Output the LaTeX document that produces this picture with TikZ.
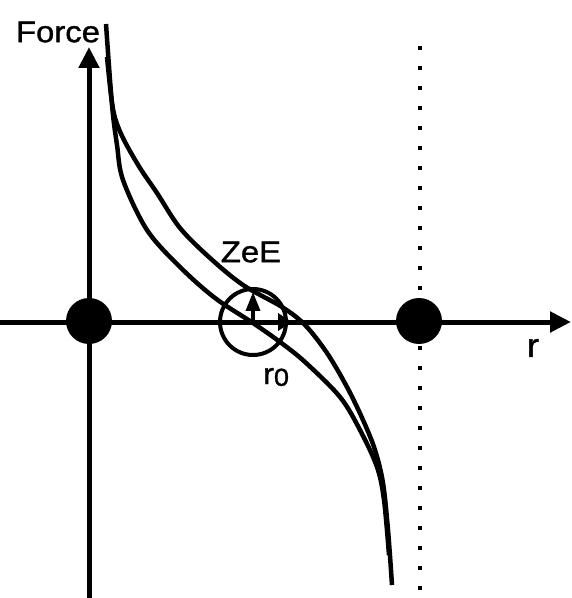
\documentclass[tikz,border=0pt]{standalone}
\usepackage{fontspec}
\setmainfont{Liberation Sans}[FakeStretch=1.1, FakeBold=1.2]
\usetikzlibrary{arrows.meta}

\begin{document}
\begin{tikzpicture}[
    x=0.02cm, y=-0.02cm,
    >={Triangle[length=0.42cm, width=0.4cm]},
    line width=0.1cm,
    font=\fontsize{17}{20}\selectfont,
    atom/.style={circle, fill=black, inner sep=0pt, minimum size=0.92cm},
    lbl/.style={inner sep=0pt}
]

    % Frame
    \useasboundingbox (0,0) rectangle (571,598);

    % Define standard coordinates
    \coordinate (Ybot) at (89,598);
    \coordinate (Ytop) at (89,47);
    \coordinate (Xleft) at (0,322);
    \coordinate (Xright) at (571,322);
    \coordinate (Dtop) at (420,46);
    \coordinate (Dbot) at (420,598);
    \coordinate (C) at (253,322);
    \coordinate (Cup) at (253,292);
    \coordinate (Cright) at (292,322);

    % Axes
    \draw[->] (Ybot) -- (Ytop);
    \draw[->] (Xleft) -- (Xright);

    % Dotted boundary
    \draw[line width=0.085cm, dash pattern=on 0.085cm off 0.315cm] (Dtop) -- (Dbot);

    % Atoms on the axis
    \node[atom] (A1) at (89,321) {};
    \node[atom] (A2) at (419,321) {};

    % Force curves
    \draw[line width=0.09cm] plot[smooth, tension=0.55] coordinates {
        (106,24) (110,80) (113,115) (117,145) (123,180) (147,230) (180,267) (215,298)
        (253,323) (280,342) (305,362) (340,397) (360,430) (377,467) (384,500) (389,555)};
    \draw[line width=0.09cm] plot[smooth, tension=0.55] coordinates {
        (107,57) (111,95) (115,118) (124,140) (140,168) (157,193) (180,228) (210,258)
        (243,285) (282,307) (305,325) (327,353) (347,387) (363,420) (375,450)
        (383,483) (388,530) (392,585)};

    % Circle of radius r0 with field arrows
    \draw[line width=0.08cm] (C) circle (33);
    \draw[->, >={Triangle[length=0.38cm, width=0.28cm]}, line width=0.07cm] (C) -- (Cup);
    \draw[->, >={Triangle[length=0.28cm, width=0.34cm]}, line width=0.07cm] (C) -- (Cright);

    % Labels
    \node[lbl] (force) at (58,32) {Force};
    \node[lbl] (zee) at (251,252) {ZeE};
    \node[lbl] (rlbl) at (533,348) {\fontsize{19}{20}\selectfont r};
    \node[lbl] (rzero) at (276,377) {r\raisebox{-1pt}{\fontsize{14}{14}\selectfont 0}};

\end{tikzpicture}
\end{document}
